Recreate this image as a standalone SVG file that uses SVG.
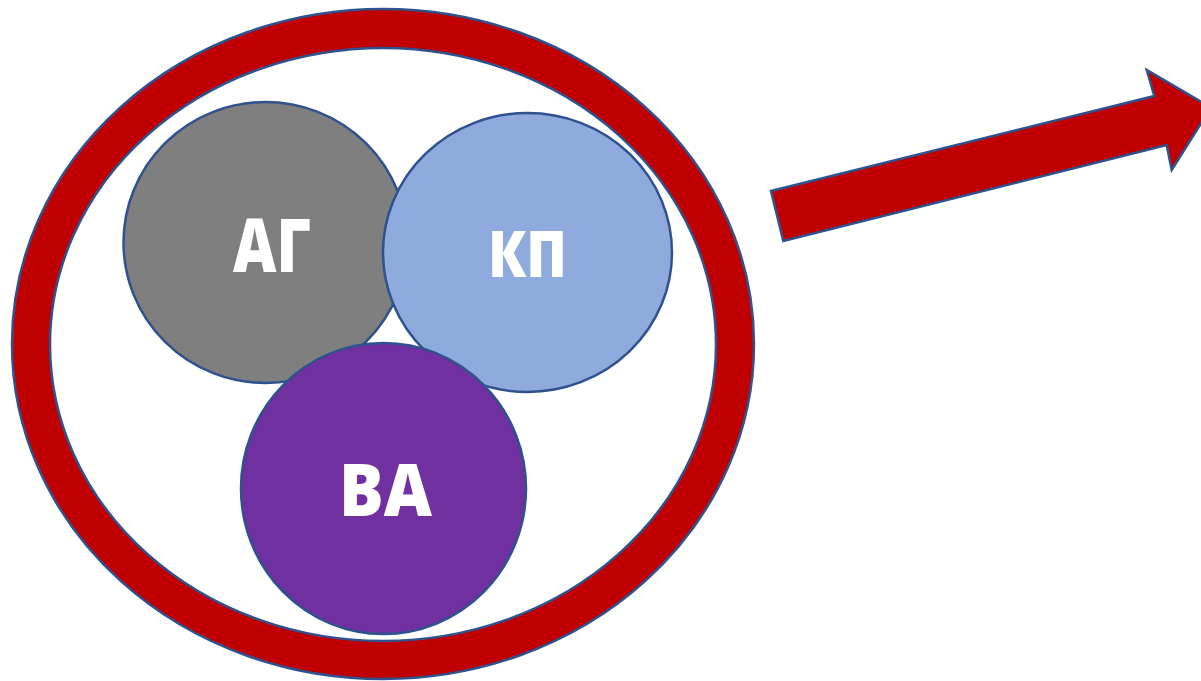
<svg xmlns="http://www.w3.org/2000/svg" width="1201" height="681" viewBox="0 0 1201 681">
<style>
.ol{stroke:#2F528F;stroke-width:2.5;}
.lbl{font-family:"Open Sans","Liberation Sans",sans-serif;font-weight:800;fill:#FFFFFF;text-anchor:middle;}
</style>
<rect width="1201" height="681" fill="#FFFFFF"/>
<g id="ring">
<path class="ol" fill="#C00000" fill-rule="evenodd" d="M12,344 A371,335 0 1,0 754,344 A371,335 0 1,0 12,344 Z M50,344.5 A333,296.5 0 1,0 716,344.5 A333,296.5 0 1,0 50,344.5 Z"/>
</g>
<g id="node-ag">
<ellipse class="ol" cx="265.5" cy="242.5" rx="142" ry="140.5" fill="#7F7F7F"/>
<text class="lbl" x="272" y="272" font-size="75" textLength="78" lengthAdjust="spacingAndGlyphs">АГ</text>
</g>
<g id="node-kp">
<ellipse class="ol" cx="527.5" cy="252.5" rx="144.5" ry="139.5" fill="#8FAADC"/>
<text class="lbl" x="527.5" y="277" font-size="63" textLength="79" lengthAdjust="spacingAndGlyphs">КП</text>
</g>
<g id="node-va">
<ellipse class="ol" cx="383.5" cy="488.5" rx="142.5" ry="145.5" fill="#7030A0"/>
<text class="lbl" x="385.5" y="516" font-size="73" textLength="93" lengthAdjust="spacingAndGlyphs">ВА</text>
</g>
<g id="connectors">
<polygon class="ol" fill="#C00000" points="771,191 1154.3,96 1146.7,70 1211,107.5 1171.7,170 1166.7,145 783.3,241"/>
</g>
</svg>
